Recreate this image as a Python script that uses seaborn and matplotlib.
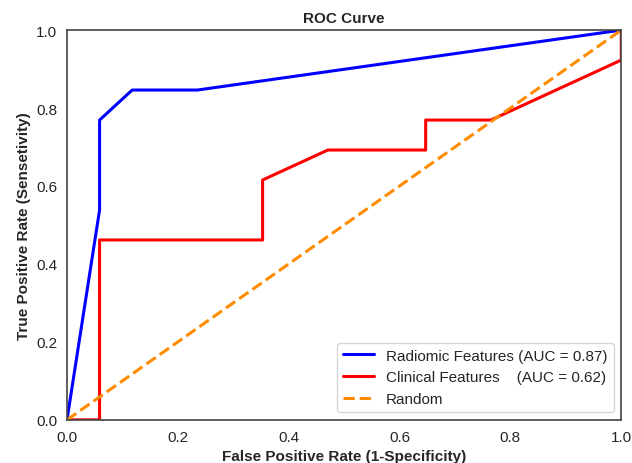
import matplotlib
matplotlib.use('Agg')
import matplotlib.pyplot as plt
import seaborn as sns
import pandas as pd

# ROC points
radiomic_fpr = [0.0, 0.0588, 0.0588, 0.1176, 0.2353, 1.0]
radiomic_tpr = [0.0, 0.5385, 0.7692, 0.8462, 0.8462, 1.0]
clinical_fpr = [0.0, 0.0588, 0.0588, 0.3529, 0.3529, 0.4706, 0.6471, 0.6471, 0.7647, 1.0, 1.0]
clinical_tpr = [0.0, 0.0, 0.4615, 0.4615, 0.6154, 0.6923, 0.6923, 0.7692, 0.7692, 0.9231, 1.0]
random_x = [0.0, 1.0]
random_y = [0.0, 1.0]
labels = ['Radiomic Features (AUC = 0.87)', 'Clinical Features    (AUC = 0.62)', 'Random']

sns.set_style('white')
plt.rcParams['font.family'] = ['Liberation Sans', 'DejaVu Sans']

fig, ax = plt.subplots(figsize=(6.32, 4.64), dpi=100)
fig.subplots_adjust(left=0.106, right=0.983, top=0.933, bottom=0.093)

rad = pd.DataFrame({'fpr': radiomic_fpr, 'tpr': radiomic_tpr})
cli = pd.DataFrame({'fpr': clinical_fpr, 'tpr': clinical_tpr})
rnd = pd.DataFrame({'fpr': random_x, 'tpr': random_y})

# estimator=None so repeated FPR values are drawn as steps, not averaged
sns.lineplot(data=rad, x='fpr', y='tpr', sort=False, estimator=None, color='blue',
             lw=2.2, label=labels[0], ax=ax)
sns.lineplot(data=cli, x='fpr', y='tpr', sort=False, estimator=None, color='red',
             lw=2.2, label=labels[1], ax=ax)
sns.lineplot(data=rnd, x='fpr', y='tpr', sort=False, estimator=None, color='darkorange',
             lw=2.2, ls='--', label=labels[2], ax=ax)

ax.set_xlim(0, 1)
ax.set_ylim(0, 1)
ax.set_xticks([0, 0.2, 0.4, 0.6, 0.8, 1.0])
ax.set_yticks([0, 0.2, 0.4, 0.6, 0.8, 1.0])
ax.tick_params(labelsize=11)
for s in ax.spines.values():
    s.set_color('#444444')
    s.set_linewidth(1.2)

ax.set_title('ROC Curve', fontweight='bold', fontsize=11)
ax.set_xlabel('False Positive Rate (1-Specificity)', fontweight='bold', fontsize=11)
ax.set_ylabel('True Positive Rate (Sensetivity)', fontweight='bold', fontsize=11)
ax.legend(loc='lower right', fontsize=11)

plt.savefig('out.png', dpi=100)
plt.close()
